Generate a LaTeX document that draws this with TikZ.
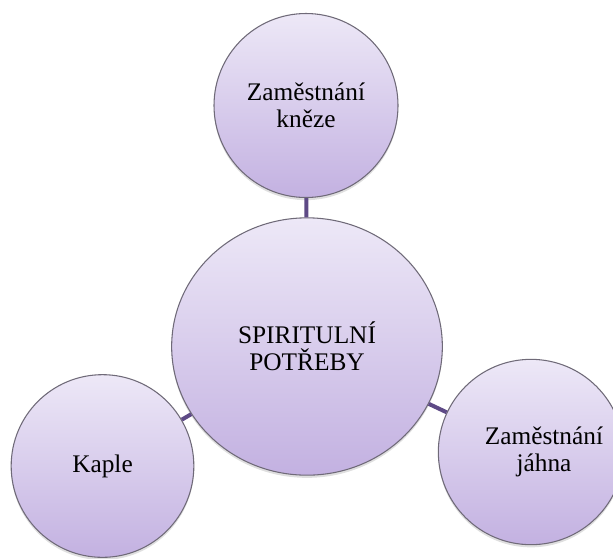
\documentclass[tikz,border=0pt]{standalone}
\usepackage{fontspec}
\setmainfont{Liberation Serif}
\usetikzlibrary{shapes.geometric,shadows}
\definecolor{topc}{HTML}{EDE8F7}
\definecolor{botc}{HTML}{C3B1E1}
\definecolor{edgec}{HTML}{6F6A78}
\definecolor{linkc}{HTML}{5E4A86}
\tikzset{
  bubble/.style={circle, draw=edgec, line width=0.8pt, top color=topc, bottom color=botc,
    inner sep=0pt, align=center, text=black,
    font=\fontsize{19}{20.3}\selectfont,
    drop shadow={opacity=0.25, shadow xshift=0pt, shadow yshift=-2pt}},
  hub/.style={bubble, ellipse},
  link/.style={draw=linkc, line width=3pt},
  lbl/.style={align=center, text=black, inner sep=0pt, font=\fontsize{19}{20.3}\selectfont}
}
\begin{document}
\begin{tikzpicture}[x=0.75pt,y=-0.75pt]
\useasboundingbox (0,0) rectangle (613,558);
\clip (0,0) rectangle (613,558);
\node[hub, minimum width=203pt, minimum height=193pt] (c) at (307,346.5) {SPIRITULNÍ\\POTŘEBY};
\node[bubble, minimum size=138pt] (t) at (306,105.5) {Zaměstnání\\kněze};
\node[bubble, minimum size=137pt] (l) at (102.5,466) {Kaple};
\node[bubble, minimum size=139pt] (r) at (531,452) {};
\node[lbl] (rt) at (544,452) {Zaměstnání\\jáhna};
\draw[link] (c) -- (t);
\draw[link] (c) -- (l);
\draw[link] (c) -- (r);
\end{tikzpicture}
\end{document}
